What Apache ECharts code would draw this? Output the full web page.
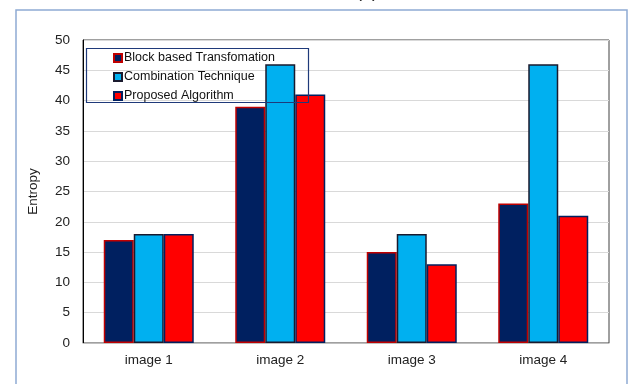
<!DOCTYPE html>
<html>
<head>
<meta charset="utf-8">
<script src="https://cdn.jsdelivr.net/npm/echarts@6/dist/echarts.min.js"></script>
<style>
html,body{margin:0;padding:0;background:#fff;}
#chart{width:630px;height:384px;}
</style>
</head>
<body>
<div id="chart"></div>
<script>
// Entropy per test image for the three methods
const categories = ['image 1', 'image 2', 'image 3', 'image 4'];
const blockBased = [17, 39, 15, 23];
const combination = [18, 46, 18, 46];
const proposed = [18, 41, 13, 21];
const seriesNames = ['Block based Transfomation', 'Combination Technique', 'Proposed Algorithm'];

const chart = echarts.init(document.getElementById('chart'));
const font = 'Arial, "Liberation Sans", sans-serif';

function barSeries(name, data, fill, stroke) {
  return {
    name: name,
    type: 'bar',
    data: data,
    barWidth: 30,
    barGap: '0%',
    itemStyle: { color: fill, borderColor: stroke, borderWidth: 1.5 },
    emphasis: { disabled: true }
  };
}

chart.setOption({
  animation: false,
  grid: {
    left: 83, right: 21, top: 40, bottom: 41,
    show: true, borderColor: '#404040', borderWidth: 1
  },
  xAxis: {
    type: 'category',
    data: categories,
    axisLine: { lineStyle: { color: '#bfbfbf', width: 1 } },
    axisTick: { show: false },
    axisLabel: { color: '#222', fontFamily: font, fontSize: 13.5, margin: 10 }
  },
  yAxis: {
    type: 'value',
    min: 0, max: 50, interval: 5,
    name: 'Entropy',
    nameLocation: 'middle',
    nameGap: 43,
    nameTextStyle: { color: '#222', fontFamily: font, fontSize: 13.5 },
    axisLine: { show: true, lineStyle: { color: '#000' } },
    axisTick: { show: false },
    axisLabel: { color: '#222', fontFamily: font, fontSize: 13.5, margin: 13 },
    splitLine: { lineStyle: { color: '#d9d9d9' } }
  },
  legend: {
    orient: 'vertical',
    left: 113, top: 51,
    itemWidth: 8, itemHeight: 8,
    itemGap: 5,
    icon: 'rect',
    selectedMode: false,
    padding: 0,
    textStyle: { color: '#111', fontFamily: font, fontSize: 12.5, padding: [0, 0, 0, -3], lineHeight: 14 },
    data: seriesNames
  },
  graphic: [
    {
      type: 'rect', z: 100, silent: true,
      shape: { x: 86.5, y: 48.5, width: 222, height: 54 },
      style: { fill: 'none', stroke: '#1f3a7a', lineWidth: 1.2 }
    },
    {
      type: 'rect', z: 100, silent: true,
      shape: { x: 16, y: 10, width: 611, height: 390 },
      style: { fill: 'none', stroke: '#8eaad4', lineWidth: 1.5 }
    },
    {
      type: 'text', z: 100, silent: true,
      left: 356, top: -17,
      style: { text: '(b)', fill: '#222', font: '18px ' + font }
    }
  ],
  series: [
    barSeries(seriesNames[0], blockBased, '#002060', '#c00000'),
    barSeries(seriesNames[1], combination, '#00b0f0', '#1a1a2e'),
    barSeries(seriesNames[2], proposed, '#ff0000', '#002060')
  ]
});
</script>
</body>
</html>
